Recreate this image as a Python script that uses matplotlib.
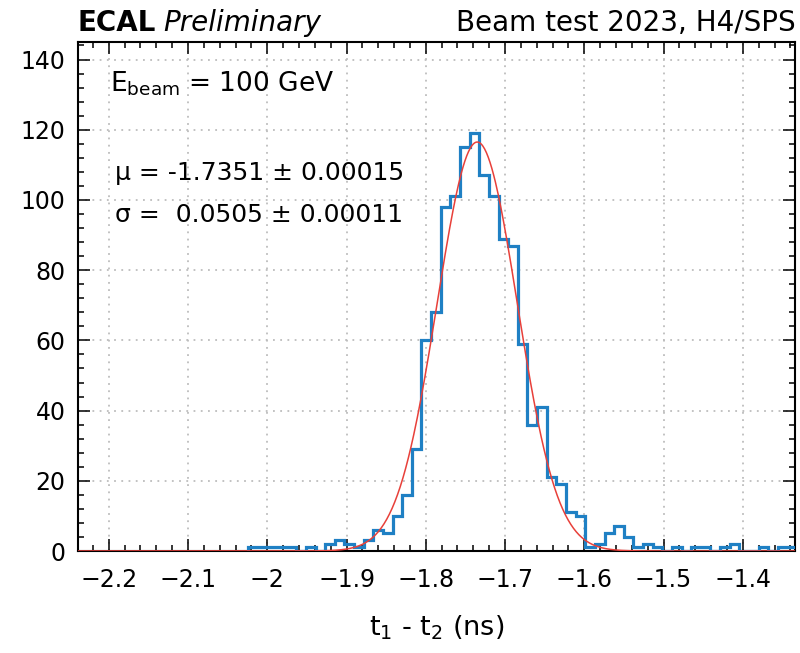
import matplotlib
matplotlib.use('Agg')
import matplotlib.pyplot as plt
from matplotlib.ticker import MultipleLocator, FuncFormatter
import numpy as np

plt.rcParams['font.family'] = ['DejaVu Sans']
plt.rcParams['mathtext.fontset'] = 'dejavusans'

# histogram t1 - t2
bin_start = -2.0241
bin_width = 0.01215
counts = [1, 1, 1, 1, 1, 0, 1, 0, 2, 3, 2, 1, 3, 6, 5, 10, 16, 29, 60, 68,
          98, 101, 115, 119, 107, 101, 89, 87, 59, 36, 41, 21, 19, 11, 10,
          1, 2, 5, 7, 4, 1, 2, 1, 0, 1, 0, 1, 1, 0, 1, 2, 0, 0, 1, 0, 1, 1]

# gaussian fit
mu = -1.7351
sigma = 0.0505
amp = 116.5

xlim = (-2.2387, -1.334)
ylim = (0, 145)


def fmt(v, p):
    return f'{v:g}'.replace('-', '\u2212')


fig = plt.figure(figsize=(8, 6.53), dpi=100)
ax = fig.add_axes([0.0975, 0.1562, 0.8965, 0.7795])

edges = bin_start + bin_width * np.arange(len(counts) + 1)
ax.stairs(counts, edges, color='#1f80c4', linewidth=2.3, zorder=3)

xs = np.linspace(xlim[0], xlim[1], 800)
ax.plot(xs, amp * np.exp(-0.5 * ((xs - mu) / sigma) ** 2), color='#e8403a', linewidth=1.1, zorder=4)

ax.set_xlim(*xlim)
ax.set_ylim(*ylim)
ax.xaxis.set_major_locator(MultipleLocator(0.1))
ax.xaxis.set_minor_locator(MultipleLocator(0.02))
ax.yaxis.set_major_locator(MultipleLocator(20))
ax.yaxis.set_minor_locator(MultipleLocator(4))
ax.xaxis.set_major_formatter(FuncFormatter(fmt))
ax.tick_params(which='both', direction='in', top=True, right=True, width=1.1, labelsize=17)
ax.tick_params(which='major', length=8.6)
ax.tick_params(which='minor', length=4.3)
ax.tick_params(axis='x', pad=12)
ax.tick_params(axis='y', pad=9)
for s in ax.spines.values():
    s.set_linewidth(1.5)
ax.grid(True, which='major', linestyle=(0, (1, 3)), color='#bdbdbd', linewidth=1.3)

ax.set_xlabel(r'$\mathregular{t_1}$ - $\mathregular{t_2}$ (ns)', fontsize=19.5, labelpad=16)

ax.text(0.045, 0.902, r'E$\mathregular{_{beam}}$ = 100 GeV', transform=ax.transAxes, fontsize=19, va='baseline')
ax.text(0.0516, 0.729, '\u03bc = -1.7351 \u00b1 0.00015', transform=ax.transAxes, fontsize=18, va='baseline')
ax.text(0.0516, 0.647, '\u03c3 =  0.0505 \u00b1 0.00011', transform=ax.transAxes, fontsize=18, va='baseline')

t1 = fig.text(0.0975, 0.952, 'ECAL', fontsize=20, fontweight='bold', va='baseline')
ax.annotate('Preliminary', xy=(1, 0), xycoords=t1, xytext=(5, 0), textcoords='offset points',
            fontsize=20, style='italic', va='bottom')
fig.text(0.994, 0.952, 'Beam test 2023, H4/SPS', fontsize=20, ha='right', va='baseline')

fig.savefig('out.png', dpi=100)
